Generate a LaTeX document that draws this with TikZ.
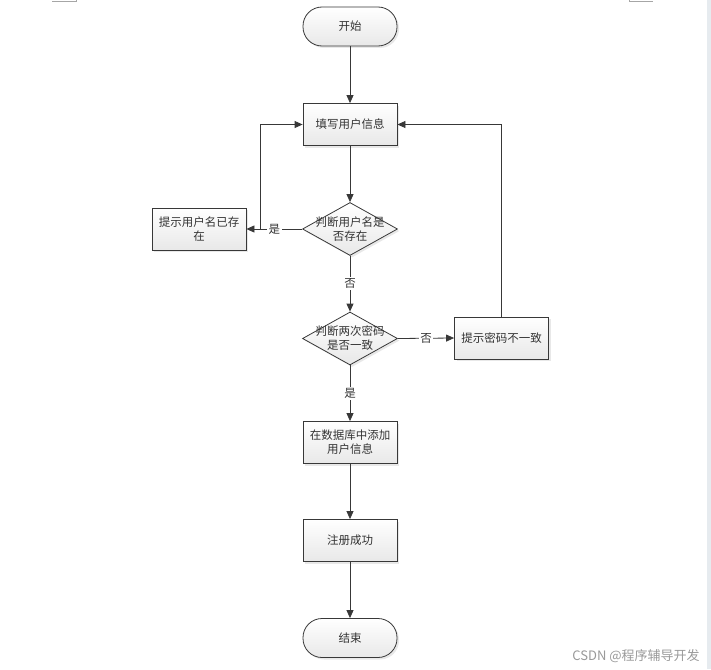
\documentclass[tikz,border=0pt]{standalone}
\usepackage{fontspec}
\newfontfamily\cjk{Noto Sans CJK SC}
\usetikzlibrary{
	arrows.meta,
	shapes.geometric,
	shadows,
	positioning,
}
\definecolor{edgegray}{HTML}{383838}
\definecolor{stripgray}{RGB}{230,235,239}

\begin{document}
\begin{tikzpicture}[
		x=1pt,y=-1pt,
		every node/.style={font=\cjk\fontsize{11.5}{14}\selectfont,text=black!80},
		boxbase/.style={draw=edgegray,line width=0.8pt,top color=white,bottom color=black!9,
			drop shadow={opacity=0.18,shadow xshift=2pt,shadow yshift=-2pt}},
		procbox/.style={boxbase,rectangle,minimum width=94pt,minimum height=42pt,align=center,inner sep=2pt},
		termbox/.style={boxbase,rectangle,rounded corners=19pt,minimum width=94pt,minimum height=39pt},
		decbox/.style={boxbase,diamond,minimum width=95pt,minimum height=53pt,inner sep=0pt},
		flow/.style={draw=edgegray,line width=0.8pt,-{Triangle[length=8pt,width=7pt]}},
		yesno/.style={fill=white,inner sep=1.5pt},
	]
	\useasboundingbox (0,0) rectangle (711,669);
	% page marks and right strip
	\fill[stripgray] (707,0) rectangle (711,669);
	\draw[black!35,line width=0.6pt] (52,1) -- (76,1) -- (76,0);
	\draw[black!35,line width=0.6pt] (629,0) -- (629,1) -- (653,1);

	\node[termbox] (start) at (350,26.5) {开始};
	\node[procbox] (fillin) at (350,124.5) {填写用户信息};
	\node[decbox] (chkname) at (350,229) {};
	\node[align=center] at (chkname) {判断用户名是\\否存在};
	\node[procbox] (nameexists) at (199,229) {提示用户名已存\\在};
	\node[decbox] (chkpwd) at (350,338.5) {};
	\node[align=center] at (chkpwd) {判断两次密码\\是否一致};
	\node[procbox] (pwdwrong) at (501.5,338) {提示密码不一致};
	\node[procbox] (addrec) at (350,442.5) {在数据库中添加\\用户信息};
	\node[procbox] (regok) at (350,540.5) {注册成功};
	\node[termbox] (finish) at (350,638) {结束};
	\coordinate (back) at (260.5,229);

	\draw[flow] (start) -- (fillin);
	\draw[flow] (fillin) -- (chkname);
	\draw[flow] (chkname.west) -- node[yesno] {是} (nameexists.east);
	\draw[flow] (back) |- (fillin.west);
	\draw[flow] (chkname.south) -- node[yesno] {否} (chkpwd.north);
	\draw[flow] (chkpwd.east) -- node[yesno] {否} (pwdwrong.west);
	\draw[flow] (pwdwrong.north) |- (fillin.east);
	\draw[flow] (chkpwd.south) -- node[yesno] {是} (addrec.north);
	\draw[flow] (addrec) -- (regok);
	\draw[flow] (regok) -- (finish);

	\node[font=\cjk\fontsize{13}{15}\selectfont,text=black!40] (mark) at (636,656) {CSDN @程序辅导开发};
\end{tikzpicture}
\end{document}
